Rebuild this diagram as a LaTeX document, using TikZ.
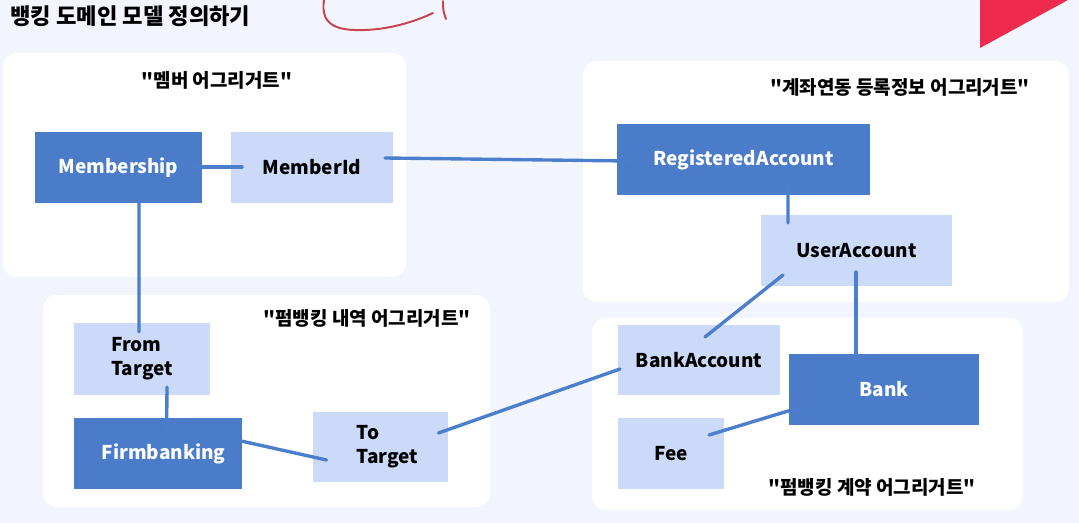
\documentclass[tikz,border=0pt]{standalone}
\usepackage{fontspec}
\setmainfont{Noto Sans CJK KR}
\usetikzlibrary{calc}
\definecolor{bgcol}{HTML}{F3F5FE}
\definecolor{boxdark}{HTML}{4A7CC9}
\definecolor{boxlight}{HTML}{CCDAFA}
\definecolor{linkblue}{HTML}{4B7ECD}
\definecolor{markred}{HTML}{EE2A4E}
\definecolor{penred}{HTML}{C8454D}
\newcommand{\qt}{\textquotedbl}

\begin{document}
\begin{tikzpicture}[x=0.025cm, y=-0.025cm,
    panel/.style={fill=white, rounded corners=10pt},
    darkbox/.style={fill=boxdark},
    lightbox/.style={fill=boxlight},
    boxtxt/.style={font=\fontsize{13.5}{17}\selectfont\bfseries, align=left, inner sep=0pt},
    paneltitle/.style={font=\fontsize{13.5}{16}\selectfont\bfseries, inner sep=0pt},
    link/.style={draw=linkblue, line width=2.4pt, line cap=round}]
    % Fond
    \fill[bgcol] (0,0) rectangle (1079,523);
    \useasboundingbox (0,0) rectangle (1079,523);
    \node[font=\fontsize{15.8}{18}\selectfont\bfseries, anchor=west, inner sep=0pt] (title) at (10,16) {뱅킹 도메인 모델 정의하기};
    \fill[markred] (980,0) -- (1068,0) -- (980,48) -- cycle;
    \draw[penred, line width=1.4pt, line cap=round] (324,0) .. controls (320,26) and (338,31) .. (365,30) .. controls (392,29) and (416,21) .. (433,13);
    \draw[penred, line width=1.4pt, line cap=round] (443,1) .. controls (443,10) .. (446,19);

    % Agregats
    \fill[panel] (3,53) rectangle (406,277);
    \fill[panel] (43,295) rectangle (490,507);
    \fill[panel] (583,61) rectangle (1069,302);
    \fill[panel] (592,318) rectangle (1023,510);
    \node[paneltitle] (memtitle) at (217,80) {\qt 멤버 어그리거트\qt};
    \node[paneltitle] (histtitle) at (367,318) {\qt 펌뱅킹 내역 어그리거트\qt};
    \node[paneltitle] (regtitle) at (900,87) {\qt 계좌연동 등록정보 어그리거트\qt};
    \node[paneltitle] (contitle) at (872,487) {\qt 펌뱅킹 계약 어그리거트\qt};

    % Boites
    \fill[darkbox] (35,132) rectangle (202,203) node[pos=.5, boxtxt, text=white] (mship) {Membership};
    \fill[lightbox] (231,132) rectangle (393,203) node[pos=.5, boxtxt] (mid) {MemberId};
    \fill[darkbox] (617,124) rectangle (870,195) node[pos=.5, boxtxt, text=white] (regacc) {RegisteredAccount};
    \fill[lightbox] (761,215) rectangle (952,286) node[pos=.5, boxtxt] (useracc) {UserAccount};
    \fill[lightbox] (74,323) rectangle (210,395) node[pos=.5, boxtxt] (fromtgt) {From\\Target};
    \fill[darkbox] (74,418) rectangle (242,489) node[pos=.5, boxtxt, text=white, xshift=4pt] (firm) {Firmbanking};
    \fill[lightbox] (313,412) rectangle (448,482) node[pos=.5, boxtxt, xshift=5pt] (totgt) {To\\Target};
    \fill[lightbox] (618,325) rectangle (780,395) node[pos=.5, boxtxt] (bankacc) {BankAccount};
    \fill[darkbox] (789,354) rectangle (979,425) node[pos=.5, boxtxt, text=white] (bank) {Bank};
    \fill[lightbox] (618,418) rectangle (724,489) node[pos=.5, boxtxt] (fee) {Fee};

    % Liens
    \draw[link] ($(mship.center)+(74.5,-0.5)$) -- ($(mid.center)+(-70,-0.5)$);
    \draw[link] ($(mid.center)+(73,-9.5)$) -- ($(regacc.center)+(-115.5,1.5)$);
    \draw[link] ($(mship.center)+(20.5,29.5)$) -- ($(fromtgt.center)+(-3,-27)$);
    \draw[link] ($(fromtgt.center)+(25,28)$) -- ($(firm.center)+(3,-25.5)$);
    \draw[link] ($(firm.center)+(73,-13.5)$) -- ($(totgt.center)+(-61,13)$);
    \draw[link] ($(totgt.center)+(51,-14)$) -- ($(bankacc.center)+(-79,9)$);
    \draw[link] ($(regacc.center)+(44.5,22.5)$) -- ($(useracc.center)+(-68.5,-27.5)$);
    \draw[link] ($(useracc.center)+(-73.5,24.5)$) -- ($(bankacc.center)+(6,-23)$);
    \draw[link] ($(useracc.center)+(-0.5,21.5)$) -- ($(bank.center)+(-28,-31.5)$);
    \draw[link] ($(bank.center)+(-86,18.5)$) -- ($(fee.center)+(38,-18.5)$);
\end{tikzpicture}
\end{document}
